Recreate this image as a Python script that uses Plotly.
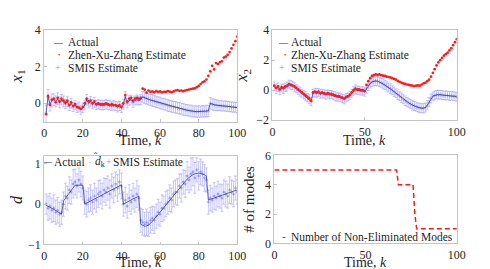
import plotly.graph_objects as go

# ---------------- data ----------------
k = list(range(1, 101))

x1_actual = [
    -0.55, 0.35, -0.05, 0.15, 0.2, 0.1, 0.25, 0.05, 0.2, 0.1,
    -0.05, 0.1, -0.15, 0.0, -0.2, -0.1, -0.25, -0.2, -0.35, -0.25,
    -0.1, 0.2, 0.0, 0.1, -0.05, 0.05, -0.1, -0.05, -0.1, -0.1,
    -0.1, -0.05, -0.1, -0.1, -0.15, -0.1, -0.15, -0.2, -0.15, -0.25,
    -0.05, 0.35, 0.0, 0.15, 0.2, 0.05, 0.15, 0.2, 0.15, 0.2,
    0.35, 0.3, 0.25, 0.22, 0.18, 0.15, 0.12, 0.08, 0.05, 0.02,
    -0.02, -0.05, -0.08, -0.12, -0.15, -0.18, -0.2, -0.22, -0.25, -0.28,
    -0.3, -0.33, -0.36, -0.38, -0.4, -0.42, -0.44, -0.45, -0.46, -0.45,
    -0.45, -0.44, -0.44, -0.43, -0.42, 0.0, -0.05, -0.08, -0.1, -0.12,
    -0.13, -0.14, -0.15, -0.16, -0.17, -0.18, -0.2, -0.21, -0.22, -0.24,
]
x1_zxz = [
    -0.6, 0.4, -0.1, 0.2, 0.25, 0.05, 0.3, 0.1, 0.25, 0.15,
    0.05, 0.15, -0.1, 0.05, -0.15, -0.05, -0.2, -0.25, -0.3, -0.2,
    0.0, 0.25, 0.1, 0.15, 0.0, 0.1, -0.05, 0.0, -0.05, -0.05,
    -0.05, 0.0, -0.05, -0.1, -0.05, -0.1, -0.1, -0.15, -0.1, -0.2,
    0.0, 0.45, 0.1, 0.25, 0.3, 0.15, 0.25, 0.3, 0.25, 0.3,
    0.8, 0.75, 0.58, 0.7, 0.62, 0.65, 0.6, 0.66, 0.62, 0.65,
    0.6, 0.63, 0.62, 0.66, 0.64, 0.6, 0.65, 0.7, 0.72, 0.68,
    0.7, 0.66, 0.7, 0.72, 0.75, 0.78, 0.8, 0.82, 0.88, 0.95,
    1.05, 1.15, 1.2, 1.3, 1.5, 1.75, 2.05, 1.85, 2.2, 2.15,
    2.25, 2.3, 2.5, 2.55, 2.65, 2.8, 3.0, 3.2, 3.4, 3.65,
]
x1_err = [
    0.45, 0.4, 0.38, 0.35, 0.32, 0.3, 0.32, 0.3, 0.28, 0.3,
    0.25, 0.28, 0.25, 0.27, 0.25, 0.26, 0.25, 0.27, 0.25, 0.26,
    0.27, 0.28, 0.25, 0.26, 0.25, 0.27, 0.25, 0.26, 0.25, 0.27,
    0.25, 0.26, 0.25, 0.27, 0.25, 0.26, 0.25, 0.27, 0.25, 0.26,
    0.27, 0.28, 0.25, 0.26, 0.25, 0.27, 0.25, 0.26, 0.25, 0.27,
    0.3, 0.32, 0.3, 0.31, 0.3, 0.32, 0.3, 0.31, 0.3, 0.32,
    0.3, 0.31, 0.3, 0.32, 0.3, 0.31, 0.3, 0.32, 0.3, 0.31,
    0.3, 0.32, 0.3, 0.31, 0.3, 0.32, 0.3, 0.31, 0.3, 0.32,
    0.3, 0.31, 0.3, 0.32, 0.3, 0.32, 0.3, 0.31, 0.3, 0.28,
    0.27, 0.28, 0.27, 0.28, 0.27, 0.28, 0.27, 0.28, 0.27, 0.28,
]

x2_actual = [
    0.25, 0.1, 0.2, 0.0, 0.15, 0.1, 0.2, 0.25, 0.4, 0.35,
    0.3, 0.2, 0.1, 0.0, -0.1, -0.2, -0.3, -0.4, -0.5, -0.6,
    -0.75, -0.2, -0.15, -0.2, -0.15, -0.25, -0.2, -0.25, -0.3, -0.25,
    -0.3, -0.3, -0.35, -0.4, -0.45, -0.45, -0.5, -0.55, -0.6, -0.5,
    -0.45, -0.35, -0.2, -0.05, 0.05, 0.0, 0.0, -0.05, -0.05, -0.1,
    0.1, 0.3, 0.45, 0.55, 0.6, 0.62, 0.6, 0.55, 0.5, 0.42,
    0.35, 0.25, 0.18, 0.1, 0.0, -0.1, -0.2, -0.3, -0.4, -0.5,
    -0.6, -0.7, -0.78, -0.85, -0.92, -1.0, -1.05, -1.1, -1.15, -1.18,
    -1.2, -1.2, -1.15, -1.0, -0.8, -0.55, -0.4, -0.35, -0.3, -0.3,
    -0.3, -0.32, -0.35, -0.35, -0.35, -0.38, -0.38, -0.4, -0.4, -0.45,
]
x2_zxz = [
    0.3, 0.15, 0.25, 0.05, 0.2, 0.15, 0.25, 0.3, 0.4, 0.35,
    0.3, 0.25, 0.15, 0.05, -0.05, -0.15, -0.25, -0.35, -0.45, -0.55,
    -0.7, -0.15, -0.1, -0.15, -0.1, -0.2, -0.15, -0.2, -0.25, -0.2,
    -0.25, -0.25, -0.3, -0.35, -0.4, -0.4, -0.45, -0.5, -0.55, -0.45,
    -0.4, -0.3, -0.15, 0.0, 0.1, 0.05, 0.05, 0.0, 0.0, -0.05,
    0.35, 0.6, 0.8, 0.95, 1.0, 1.05, 1.02, 1.05, 1.0, 0.97,
    0.95, 0.9, 0.88, 0.85, 0.8, 0.75, 0.7, 0.62, 0.55, 0.5,
    0.45, 0.42, 0.38, 0.35, 0.32, 0.3, 0.28, 0.3, 0.32, 0.3,
    0.38, 0.45, 0.5, 0.6, 0.7, 0.9, 1.15, 1.4, 1.65, 1.85,
    2.0, 2.15, 2.3, 2.4, 2.5, 2.65, 2.8, 3.0, 3.2, 3.4,
]
x2_err = [
    0.3, 0.32, 0.28, 0.3, 0.27, 0.3, 0.28, 0.3, 0.27, 0.3,
    0.28, 0.3, 0.27, 0.28, 0.3, 0.27, 0.28, 0.3, 0.28, 0.3,
    0.28, 0.27, 0.28, 0.3, 0.27, 0.28, 0.27, 0.28, 0.3, 0.27,
    0.28, 0.27, 0.28, 0.3, 0.27, 0.28, 0.27, 0.28, 0.3, 0.28,
    0.27, 0.28, 0.27, 0.28, 0.3, 0.27, 0.28, 0.27, 0.28, 0.3,
    0.3, 0.32, 0.3, 0.31, 0.3, 0.32, 0.3, 0.31, 0.3, 0.32,
    0.3, 0.31, 0.3, 0.32, 0.3, 0.31, 0.3, 0.32, 0.3, 0.31,
    0.3, 0.32, 0.3, 0.31, 0.3, 0.32, 0.3, 0.31, 0.3, 0.32,
    0.3, 0.31, 0.3, 0.32, 0.3, 0.3, 0.28, 0.3, 0.28, 0.3,
    0.28, 0.3, 0.28, 0.3, 0.28, 0.3, 0.28, 0.3, 0.28, 0.3,
]

d_actual = [
    -0.03, -0.05, -0.08, -0.1, -0.13, -0.16, -0.19, -0.22, -0.25,
    0.08, 0.15, 0.22, 0.28, 0.35, 0.42, 0.47, 0.47, 0.47, 0.47, 0.47,
    0.0, 0.025, 0.05, 0.075, 0.1, 0.125, 0.15, 0.175, 0.2, 0.225,
    0.25, 0.275, 0.3, 0.325, 0.35, 0.375, 0.4, 0.425, 0.45, 0.48,
    0.0, 0.03, 0.06, 0.09, 0.11, 0.13, 0.15, 0.17, 0.2,
    -0.5, -0.53, -0.55, -0.54, -0.52, -0.48, -0.43, -0.38, -0.32, -0.26,
    -0.2, -0.14, -0.08, -0.02, 0.04, 0.1, 0.16, 0.22, 0.28, 0.34,
    0.4, 0.46, 0.52, 0.57, 0.62, 0.66, 0.7, 0.73, 0.75, 0.76,
    0.77, 0.76, 0.75, 0.73, 0.7,
    0.1, 0.12, 0.13, 0.15, 0.17, 0.18, 0.2, 0.22, 0.23, 0.25,
    0.27, 0.28, 0.3, 0.32, 0.33, 0.35,
]
d_smis = [
    0.0, -0.1, -0.05, -0.15, -0.1, -0.2, -0.15, -0.25, -0.2,
    0.0, 0.2, 0.15, 0.35, 0.3, 0.5, 0.55, 0.45, 0.6, 0.5, 0.4,
    0.05, 0.0, 0.1, 0.15, 0.05, 0.2, 0.1, 0.25, 0.3, 0.2,
    0.35, 0.3, 0.4, 0.25, 0.45, 0.35, 0.5, 0.4, 0.55, 0.45,
    0.0, 0.1, -0.05, 0.15, 0.05, 0.2, 0.1, 0.25, 0.15,
    -0.4, -0.45, -0.5, -0.45, -0.5, -0.4, -0.35, -0.4, -0.3, -0.2,
    -0.25, -0.1, -0.1, 0.0, 0.05, 0.15, 0.1, 0.25, 0.3, 0.3,
    0.45, 0.4, 0.55, 0.5, 0.7, 0.6, 0.75, 0.8, 0.65, 0.85,
    0.7, 0.8, 0.75, 0.65, 0.6,
    0.05, 0.15, 0.1, 0.2, 0.15, 0.25, 0.2, 0.15, 0.3, 0.25,
    0.2, 0.35, 0.3, 0.25, 0.4, 0.3,
]
d_err = [
    0.25, 0.3, 0.32, 0.3, 0.33, 0.3, 0.32, 0.3, 0.3,
    0.3, 0.32, 0.3, 0.33, 0.3, 0.35, 0.32, 0.3, 0.3, 0.32, 0.3,
    0.3, 0.32, 0.3, 0.33, 0.3, 0.32, 0.3, 0.33, 0.3, 0.32,
    0.3, 0.33, 0.3, 0.35, 0.3, 0.32, 0.3, 0.33, 0.3, 0.32,
    0.3, 0.32, 0.3, 0.33, 0.3, 0.32, 0.3, 0.33, 0.3,
    0.3, 0.32, 0.3, 0.33, 0.3, 0.32, 0.3, 0.33, 0.3, 0.32,
    0.3, 0.33, 0.3, 0.32, 0.3, 0.33, 0.3, 0.32, 0.3, 0.33,
    0.3, 0.35, 0.3, 0.33, 0.35, 0.32, 0.4, 0.35, 0.38, 0.3,
    0.35, 0.32, 0.3, 0.33, 0.3,
    0.3, 0.32, 0.3, 0.33, 0.3, 0.32, 0.3, 0.33, 0.3, 0.32,
    0.3, 0.33, 0.3, 0.32, 0.3, 0.3,
]

modes_k = [0, 67, 68, 76, 77, 78, 100]
modes_n = [5, 5, 4, 4, 2, 1, 1]

x1_ticks = [0, 20, 40, 60, 80, 100]
x2_ticks = [0, 50, 100]

# ---------------- style ----------------
W, H = 490, 269
FONT = "Liberation Serif"
TXT = "#262626"
AX = "#c4c4c4"
C_ACT = "#2a2a6e"
C_RED = "#ff1a1a"
C_BLUE = "rgb(145,145,255)"


def px_x(p):
    return p / W


def px_y(p):
    return 1 - p / H


fig = go.Figure()


def add_state_panel(xa, ya, actual, zxz, err):
    fig.add_trace(go.Scatter(
        x=k, y=actual, mode="markers", xaxis=xa, yaxis=ya,
        marker=dict(symbol="cross-thin", size=2.5, line=dict(color=C_BLUE, width=0.6)),
        error_y=dict(type="data", array=err, visible=True, color=C_BLUE,
                     thickness=0.5, width=1.5),
        showlegend=False, name="SMIS Estimate"))
    fig.add_trace(go.Scatter(
        x=k, y=actual, mode="lines", xaxis=xa, yaxis=ya,
        line=dict(color=C_ACT, width=0.7), showlegend=False, name="Actual"))
    fig.add_trace(go.Scatter(
        x=k, y=zxz, mode="markers", xaxis=xa, yaxis=ya,
        marker=dict(color=C_RED, size=2.7, line=dict(width=0)),
        showlegend=False, name="Zhen-Xu-Zhang Estimate"))


add_state_panel("x", "y", x1_actual, x1_zxz, x1_err)
add_state_panel("x2", "y2", x2_actual, x2_zxz, x2_err)

# d panel
fig.add_trace(go.Scatter(
    x=k, y=d_smis, mode="markers", xaxis="x3", yaxis="y3",
    marker=dict(symbol="cross-thin", size=2.5, line=dict(color=C_BLUE, width=0.6)),
    error_y=dict(type="data", array=d_err, visible=True, color=C_BLUE,
                 thickness=0.5, width=1.5),
    showlegend=False, name="SMIS Estimate"))
fig.add_trace(go.Scatter(
    x=k, y=d_smis, mode="markers", xaxis="x3", yaxis="y3",
    marker=dict(color=C_BLUE, size=1.8), showlegend=False, name="d_hat"))
fig.add_trace(go.Scatter(
    x=k, y=d_actual, mode="lines", xaxis="x3", yaxis="y3",
    line=dict(color=C_ACT, width=0.7), showlegend=False, name="Actual"))

# modes panel
fig.add_trace(go.Scatter(
    x=modes_k, y=modes_n, mode="lines", xaxis="x4", yaxis="y4",
    line=dict(color=C_RED, width=1.5, dash="5px,3px"),
    showlegend=False, name="Number of Non-Eliminated Modes"))

axis_common = dict(
    showgrid=False, zeroline=False, showline=True, mirror=True,
    linecolor=AX, linewidth=0.8, ticks="inside", ticklen=3, tickcolor=AX,
    tickfont=dict(family=FONT, size=12, color=TXT),
)
YT = dict(family=FONT, size=16, color=TXT)

dom_x_left = [px_x(34), px_x(232)]
dom_x_right = [px_x(268), px_x(457)]

fig.update_layout(
    width=W, height=H,
    margin=dict(l=0, r=0, t=0, b=0),
    paper_bgcolor="white", plot_bgcolor="white",
    font=dict(family=FONT, color=TXT),
    xaxis=dict(domain=dom_x_left, range=[0, 100], tickvals=x1_ticks,
               anchor="y", **axis_common),
    yaxis=dict(domain=[px_y(112.4), px_y(16)], range=[-1, 4], tickvals=[0, 2, 4],
               anchor="x", title=dict(text="<i>x</i><sub>1</sub>", font=YT, standoff=9),
               **axis_common),
    xaxis2=dict(domain=dom_x_right, range=[0, 100], tickvals=x2_ticks,
                anchor="y2", **axis_common),
    yaxis2=dict(domain=[px_y(111), px_y(16)], range=[-2, 4], tickvals=[-2, 0, 2, 4],
                anchor="x2", title=dict(text="<i>x</i><sub>2</sub>", font=YT, standoff=4),
                **axis_common),
    xaxis3=dict(domain=dom_x_left, range=[0, 100], tickvals=x1_ticks,
                anchor="y3", **axis_common),
    yaxis3=dict(domain=[px_y(242), px_y(148.5)], range=[-1, 1.2], tickvals=[-1, 0, 1],
                anchor="x3", title=dict(text="<i>d</i>", font=YT, standoff=6),
                **axis_common),
    xaxis4=dict(domain=[px_x(270), px_x(457)], range=[0, 100], tickvals=x2_ticks,
                anchor="y4", **axis_common),
    yaxis4=dict(domain=[px_y(241), px_y(148)], range=[0, 6], tickvals=[0, 2, 4, 6],
                anchor="x4", title=dict(text="# of modes",
                                        font=dict(family=FONT, size=15, color=TXT), standoff=6),
                **axis_common),
)


def ann(text, xp, yp, anchor="left", size=11.5, color=TXT):
    fig.add_annotation(text=text, x=px_x(xp), y=px_y(yp), xref="paper", yref="paper",
                       xanchor=anchor, yanchor="middle", showarrow=False,
                       font=dict(family=FONT, size=size, color=color))


# x-axis titles
for cx, cy in [(133, 132.5), (362, 132.5), (133, 261.5), (363, 261.5)]:
    ann("Time, <i>k</i>", cx, cy, "center", 14)

# legends (as text)
for (x0, sym_line, sym_dot, sym_plus) in [(56, 49, 50, 48), (285, 279, 281, 278)]:
    ann("Actual", x0, 29)
    ann("Zhen-Xu-Zhang Estimate", x0, 42.5)
    ann("SMIS Estimate", x0, 55.5)
    ann("—", sym_line, 29, "center", 9, C_ACT)
    ann("•", sym_dot, 42.5, "center", 7, C_RED)
    ann("+", sym_plus, 55.5, "center", 10, C_BLUE)

# d panel legend (horizontal)
ann("—", 37.5, 155, "center", 8, C_ACT)
ann("Actual", 42, 155)
ann("·", 81, 155, "center", 11, C_BLUE)
ann("<i>d</i><sub>k</sub>", 84, 155.5)
ann("ˆ", 87.5, 149.5, "center", 10)
ann("+", 100, 155, "center", 10, C_BLUE)
ann("SMIS Estimate", 103, 155)

# modes legend
ann("-", 280, 234, "center", 12, C_RED)
ann("Number of Non-Eliminated Modes", 285, 234)

fig.write_html("out.html")
